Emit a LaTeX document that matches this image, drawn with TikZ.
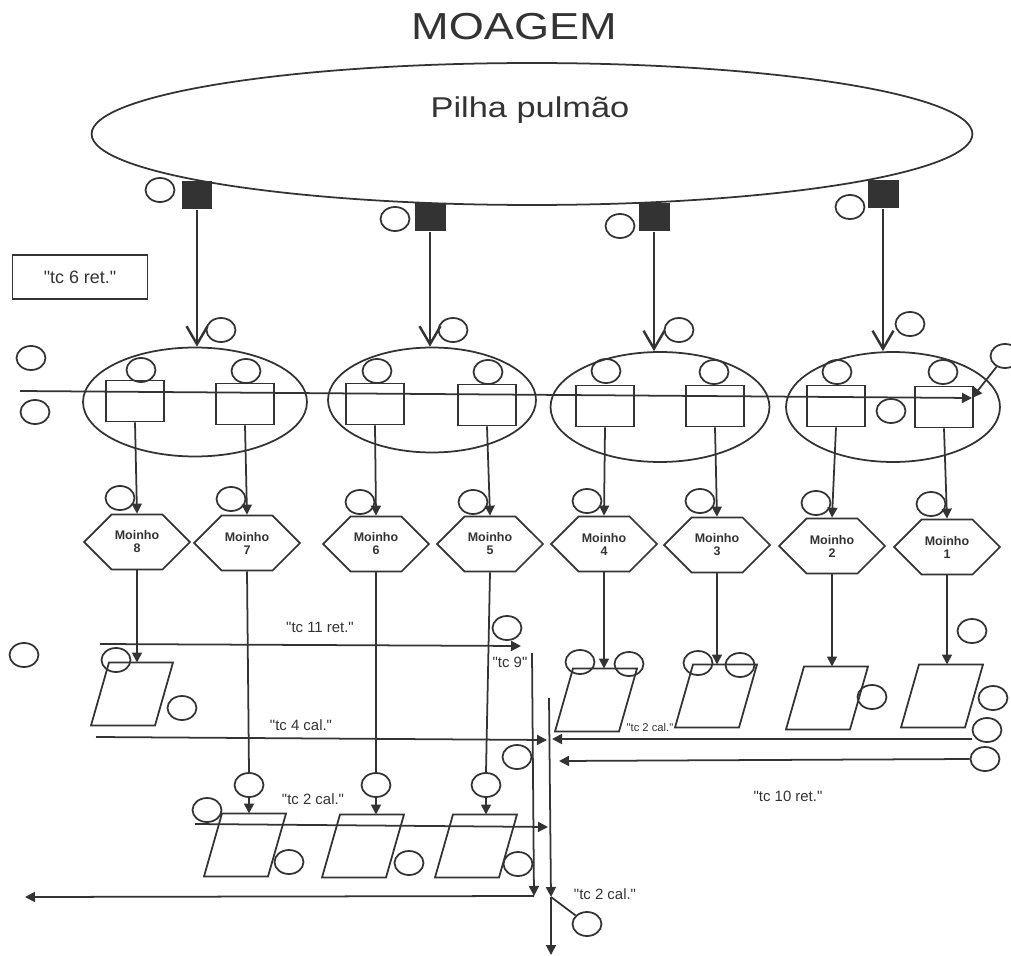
\documentclass[tikz,border=0pt]{standalone}
\usepackage{fontspec}
\setmainfont{Liberation Sans}[Ligatures=TeXOff]
\newfontfamily\widesans[FakeStretch=1.2]{Liberation Sans}
\usepackage{tikz}
\usetikzlibrary{positioning,arrows.meta,shapes.geometric,shapes.symbols}
\definecolor{ink}{HTML}{333333}
\tikzset{
  rnd/.style={draw=ink,ellipse,minimum width=0.58cm,minimum height=0.48cm,inner sep=0pt},
  bin/.style={draw=ink,rectangle,minimum width=1.16cm,minimum height=0.82cm,inner sep=0pt},
  feeder/.style={fill=ink,rectangle,minimum width=0.62cm,minimum height=0.56cm,inner sep=0pt},
  grp/.style={draw=ink,ellipse,inner sep=0pt},
  mill/.style={draw=ink,signal,signal to=west and east,minimum width=2.12cm,minimum height=1.1cm,
    inner sep=0pt,align=center,font=\fontsize{7.1}{7.4}\selectfont\bfseries},
  tag/.style={text=ink,anchor=base,inner sep=0pt,font=\fontsize{8.5}{10}\selectfont},
  flow/.style={draw=ink,-{Triangle[length=2mm,width=2mm]}},
  feed/.style={draw=ink,-{Straight Barb[length=3.6mm,width=4.2mm,line width=1.4pt]}}
}
\begin{document}
\begin{tikzpicture}[x=0.02cm,y=-0.02cm,line width=1pt,color=ink]
\useasboundingbox (0,0) rectangle (1011,956);
% pilha e alimentadores
\node[anchor=base,font=\widesans\fontsize{21.4}{24}\selectfont] (titulo) at (514,40) {MOAGEM};
\node[grp,minimum width=17.62cm,minimum height=2.84cm] (pilha) at (532,134) {};
\node[anchor=base,font=\widesans\fontsize{16.3}{19}\selectfont] (pilhaTxt) at (530,118) {Pilha pulmão};
\foreach \x/\y [count=\i] in {197/195,430/217,654/217,883/194}
  \node[feeder] (f\i) at (\x,\y) {};
\foreach \x/\y/\w/\h [count=\i] in {195/402/4.48/2.18,432/400/4.16/2.1,660/407/4.38/2.2,893/407/4.28/2.2}
  \node[grp,minimum width=\w cm,minimum height=\h cm] (g\i) at (\x,\y) {};
\foreach \i in {1,...,4}
  \draw[feed] (f\i.south) -- (f\i.south |- g\i.north);
\node[draw=ink,minimum width=2.7cm,minimum height=0.88cm,font=\fontsize{10.2}{12}\selectfont] (tc6) at (80,277) {"tc 6 ret."};
% silos, moinhos
\foreach \x/\y/\n in {135/401/8,245/404/7,375/404/6,487/405/5,605/406/4,715/406/3,836/406/2,944/407/1}
  \node[bin] (b\n) at (\x,\y) {};
\foreach \x/\y/\n in {137/542/8,247/543/7,376/544/6,490/544/5,604/544/4,717/545/3,832/546/2,947/547/1}
  \node[mill] (m\n) at (\x,\y) {Moinho\\\n};
% paralelogramos (centro x/y)
\foreach \x/\y/\n in {132/694/8,596/700/4,716/696/3,827/698/2,942/696/1,245/845/7,363/846/6,476/846/5}
  {\coordinate (s\n) at (\x,\y);
   \coordinate (st\n) at (\x+9,\y-31.5);
   \draw (\x-23,\y-31.5) -- (\x+41,\y-31.5) -- (\x+23,\y+31.5) -- (\x-41,\y+31.5) -- cycle;}
\foreach \n in {1,...,8}
  \draw[flow] (b\n.south) -- (m\n.north);
\foreach \n in {8,4,3,2,1}
  \draw[flow] (m\n.south) -- (m\n.south |- st\n);
\foreach \x/\y/\n in {249/785/7,376/785/6,486/785/5}
  {\node[rnd] (k\n) at (\x,\y) {};
   \draw (m\n.south) -- (k\n.north);
   \draw[flow] (k\n.south) -- (k\n.south |- st\n);}
% circulos
\foreach \x/\y [count=\i] in {160/190,395/219,620/226,850/207,221/330,453/330,679/330,910/324,
    31/358,35/412,141/370,246/371,377/371,488/372,606/371,714/372,837/372,943/372,891/411,
    120/498,231/499,360/502,473/502,587/501,700/501,816/503,931/504,
    24/655,116/660,182/708,507/628,580/662,629/664,698/663,740/665,872/697,972/631,993/698,
    517/757,289/862,409/863,518/864,207/810}
  \node[rnd] (o\i) at (\x,\y) {};
\node[rnd] (oCanto) at (1005,356) {};
\node[rnd] (oR1) at (987,730) {};
\node[rnd] (oR2) at (985,759) {};
\node[rnd] (oSaida) at (587,924) {};
% linhas
\coordinate (linhaA) at (20,391);
\coordinate (linhaB) at (972,398);
\draw[flow] (linhaA) -- (linhaB);
\draw[flow] (oCanto) -- (linhaB);
\coordinate (r11a) at (100,644);
\coordinate (r11b) at (521,646);
\draw[flow] (r11a) -- (r11b);
\coordinate (c4a) at (96,737);
\coordinate (c4b) at (547,740);
\draw[flow] (c4a) -- (c4b);
\coordinate (c2a) at (972,739);
\coordinate (c2b) at (552,739);
\draw[flow] (c2a) -- (c2b);
\coordinate (t10b) at (559,761);
\draw[flow] (oR2.west) -- (t10b);
\coordinate (c2ma) at (195,824);
\coordinate (c2mb) at (548,827);
\draw[flow] (c2ma) -- (c2mb);
\coordinate (v9a) at (532,653);
\coordinate (v9b) at (534,896);
\coordinate (saidaL) at (25,897);
\draw[flow] (v9a) -- (v9b);
\draw[flow] (v9b) -- (saidaL);
\coordinate (vca) at (549,698);
\coordinate (vcb) at (551,897);
\coordinate (vcc) at (551,955);
\draw[flow] (vca) -- (vcb);
\draw[flow] (vcb) -- (vcc);
\draw (oSaida) -- (vcb);
% rotulos
\node[tag] (l11) at (320,632) {"tc 11 ret."};
\node[tag] (l9) at (510,667) {"tc 9"};
\node[tag] (l4) at (301,730) {"tc 4 cal."};
\node[tag,font=\fontsize{6.4}{8}\selectfont] (l2a) at (650,731) {"tc 2 cal."};
\node[tag] (l10) at (788,801) {"tc 10 ret."};
\node[tag] (l2b) at (313,804) {"tc 2 cal."};
\node[tag] (l2c) at (605,899) {"tc 2 cal."};
\end{tikzpicture}
\end{document}
